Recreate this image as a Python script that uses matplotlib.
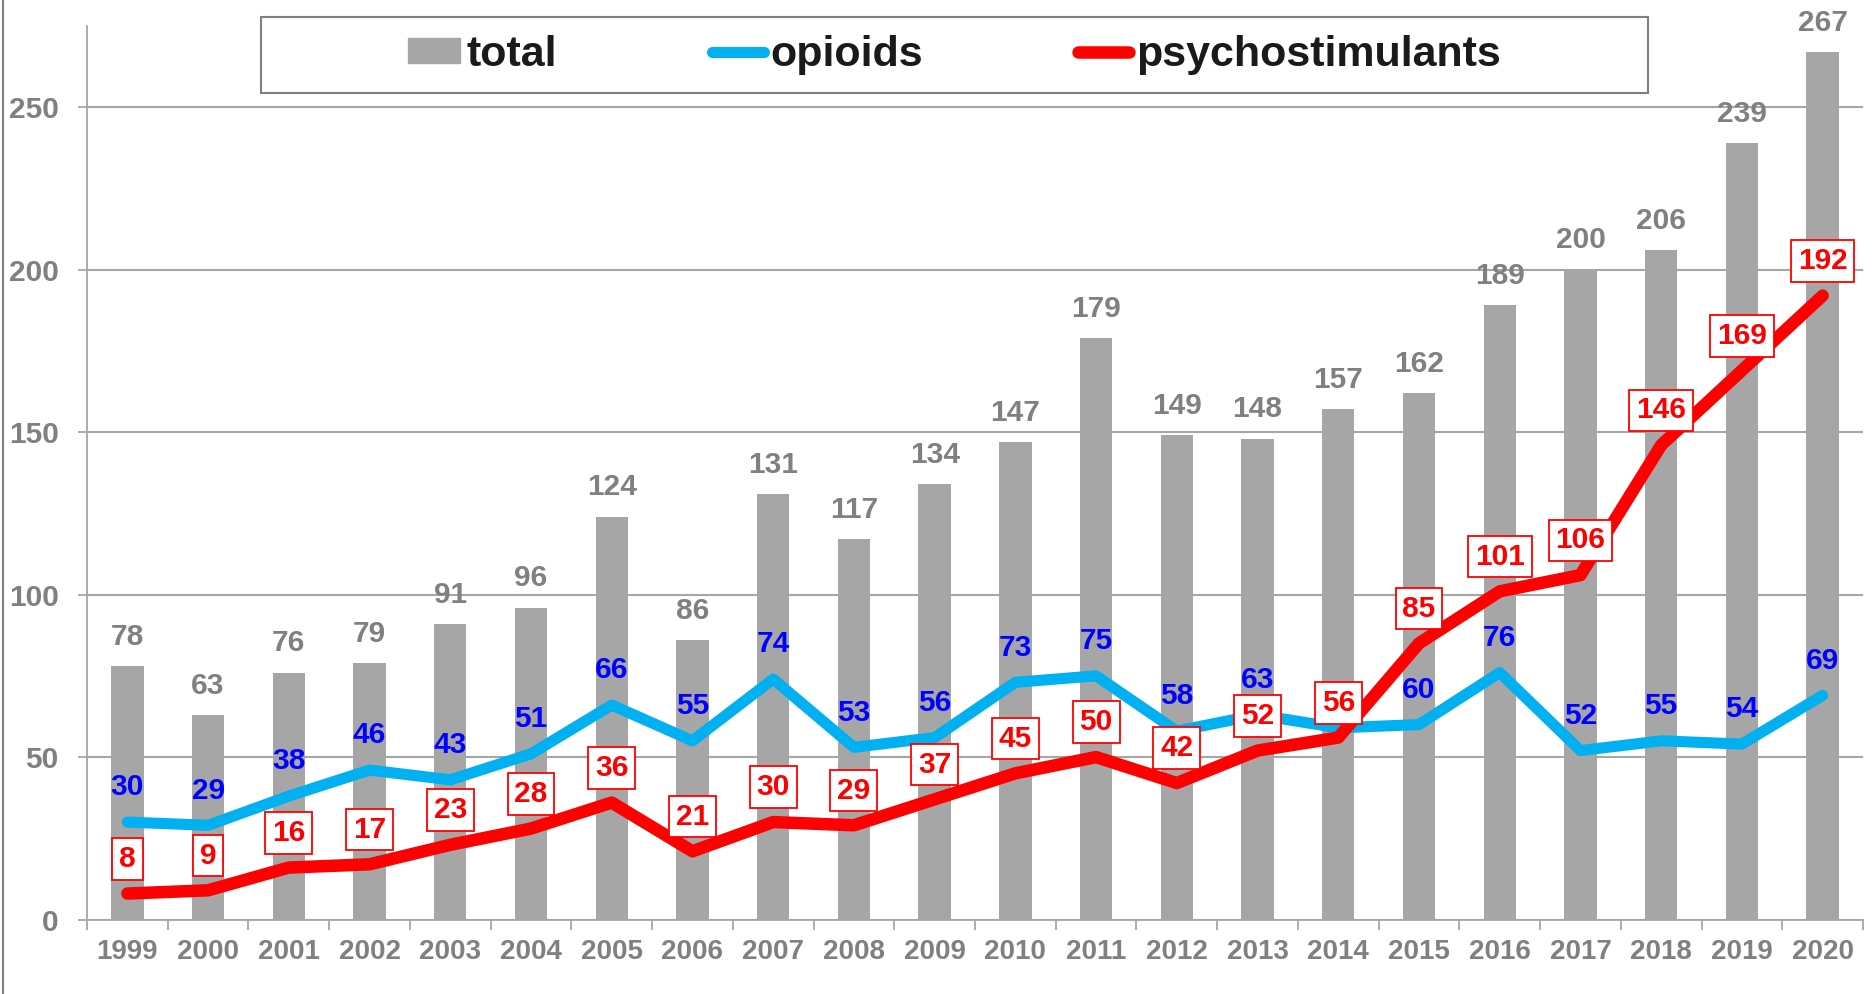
import numpy as np
import matplotlib.pyplot as plt
from matplotlib.lines import Line2D
from matplotlib.patches import Patch, Rectangle

years = ['1999', '2000', '2001', '2002', '2003', '2004', '2005', '2006', '2007', '2008', '2009',
         '2010', '2011', '2012', '2013', '2014', '2015', '2016', '2017', '2018', '2019', '2020']
total = [78, 63, 76, 79, 91, 96, 124, 86, 131, 117, 134, 147, 179, 149, 148, 157, 162, 189, 200, 206, 239, 267]
opioids = [30, 29, 38, 46, 43, 51, 66, 55, 74, 53, 56, 73, 75, 58, 63, 59, 60, 76, 52, 55, 54, 69]
psycho = [8, 9, 16, 17, 23, 28, 36, 21, 30, 29, 37, 45, 50, 42, 52, 56, 85, 101, 106, 146, 169, 192]
# the 2014 opioid label sits behind the red 56 box in the original
hidden_opioid_labels = ['2014']

plt.rcParams['font.family'] = ['Liberation Sans', 'DejaVu Sans']
plt.rcParams['font.weight'] = 'bold'

GREY = '#A6A6A6'
BLUE = '#00B0F0'
RED = '#FF0000'

fig = plt.figure(figsize=(18.75, 9.94), dpi=100)
ax = fig.add_axes([0.0464, 0.0749, 0.9472, 0.899])

x = np.arange(len(years))
ax.bar(x, total, width=0.4, color=GREY, zorder=1)
ax.plot(x, opioids, color=BLUE, lw=8, solid_capstyle='round', solid_joinstyle='round', zorder=2)
ax.plot(x, psycho, color=RED, lw=9, solid_capstyle='round', solid_joinstyle='round', zorder=3)

for xi, v in zip(x, total):
    ax.annotate(str(v), (xi, v), xytext=(0, 21), textcoords='offset points',
                ha='center', va='center', fontsize=21.5, color='#808080', fontweight='bold', zorder=4)
for xi, yr, v in zip(x, years, opioids):
    if yr in hidden_opioid_labels:
        continue
    ax.annotate(str(v), (xi, v), xytext=(0, 25), textcoords='offset points',
                ha='center', va='center', fontsize=21.5, color='#0000FF', fontweight='bold', zorder=4)
for xi, v in zip(x, psycho):
    ax.annotate(str(v), (xi, v), xytext=(0, 25), textcoords='offset points',
                ha='center', va='center', fontsize=21.5, color=RED, fontweight='bold', zorder=6,
                bbox=dict(boxstyle='square,pad=0.23', fc='white', ec=RED, lw=1.3))

ax.set_xlim(-0.5, len(years) - 0.5)
ax.set_ylim(0, 275)
ax.set_yticks([0, 50, 100, 150, 200, 250])
ax.set_xticks(x)
ax.set_xticklabels(years)
ax.set_xticks(np.arange(-0.5, len(years), 1), minor=True)
ax.tick_params(axis='x', which='major', length=0, pad=14, labelsize=20, labelcolor='#808080')
ax.tick_params(axis='x', which='minor', length=7, width=1.3, color=GREY)
ax.tick_params(axis='y', length=6.5, width=1.3, color=GREY, pad=14, labelsize=21.5, labelcolor='#808080')

ax.yaxis.grid(True, color=GREY, lw=1.5)
ax.set_axisbelow(True)
for s in ['top', 'right']:
    ax.spines[s].set_visible(False)
for s in ['left', 'bottom']:
    ax.spines[s].set_color(GREY)
    ax.spines[s].set_linewidth(1.3)

handles = [Patch(color=GREY, label='total'),
           Line2D([0], [0], color=BLUE, lw=8, solid_capstyle='round', label='opioids'),
           Line2D([0], [0], color=RED, lw=9, solid_capstyle='round', label='psychostimulants')]
leg = ax.legend(handles=handles, loc='center', bbox_to_anchor=(0.4885, 0.9675), ncol=3,
                frameon=False, fontsize=31, handlelength=1.2, handleheight=0.5, handletextpad=0.15,
                columnspacing=3.6, labelcolor='#1A1A1A')
leg.set_zorder(10)
ax.add_patch(Rectangle((0.098, 0.925), 0.781, 0.085, transform=ax.transAxes, fill=True,
                       fc='white', ec='#7F7F7F', lw=1.5, clip_on=False, zorder=9))

fig.add_artist(Line2D([0.0015, 0.0015], [0, 1], transform=fig.transFigure, color='#808080', lw=1.5))

fig.savefig('out.png', dpi=100)
